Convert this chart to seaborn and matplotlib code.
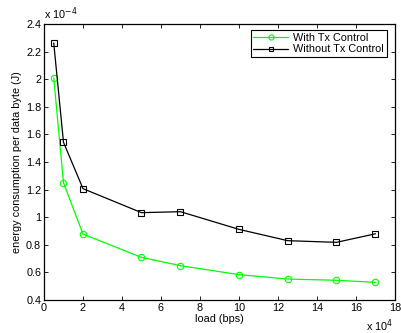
import pandas as pd
import numpy as np
import matplotlib
matplotlib.use('Agg')
import matplotlib.pyplot as plt
import seaborn as sns

# data (load in units of 1e4 bps, energy in units of 1e-4 J)
load = [0.5, 1, 2, 5, 7, 10, 12.5, 15, 17]
with_ctrl = [2.009, 1.25, 0.878, 0.709, 0.649, 0.584, 0.552, 0.543, 0.528]
without_ctrl = [2.262, 1.543, 1.207, 1.033, 1.040, 0.912, 0.830, 0.818, 0.880]
series_names = ['With Tx Control', 'Without Tx Control']
xticks = np.arange(0, 19, 2)
yticks = np.arange(0.4, 2.41, 0.2)

sns.set_style('ticks')
plt.rcParams['font.family'] = ['Liberation Sans', 'DejaVu Sans']
plt.rcParams['xtick.direction'] = 'in'
plt.rcParams['ytick.direction'] = 'in'
plt.rcParams['text.color'] = 'black'
plt.rcParams['xtick.color'] = 'black'
plt.rcParams['ytick.color'] = 'black'
plt.rcParams['axes.labelcolor'] = 'black'
fs = 7.8

fig = plt.figure(figsize=(4.01, 3.33), dpi=100)
ax = fig.add_axes([0.1097, 0.099, 0.8753, 0.829])

sns.lineplot(x=load, y=with_ctrl, ax=ax, color='#00ff00', marker='o', markersize=4.6,
             markerfacecolor='none', markeredgecolor='#00ff00', markeredgewidth=0.8,
             linewidth=0.9, label=series_names[0])
sns.lineplot(x=load, y=without_ctrl, ax=ax, color='black', marker='s', markersize=3.8,
             markerfacecolor='none', markeredgecolor='black', markeredgewidth=0.8,
             linewidth=0.9, label=series_names[1])

ax.set_xlim(0, 18)
ax.set_ylim(0.4, 2.4)
ax.set_xticks(xticks)
ax.set_yticks(yticks)
ax.set_xticklabels([f'{t:g}' for t in xticks], fontsize=fs)
ax.set_yticklabels([f'{t:g}' for t in yticks], fontsize=fs)
ax.tick_params(top=True, right=True, length=3, width=0.6, pad=2)
for s in ax.spines.values():
    s.set_linewidth(0.9)
    s.set_color('black')
    s.set_visible(True)

ax.set_xlabel('load (bps)', fontsize=fs, labelpad=1)
ax.set_ylabel('energy consumption per data byte (J)', fontsize=fs, labelpad=3)

# MATLAB style exponent labels
ax.text(0.0, 1.018, r'x 10$^{-4}$', transform=ax.transAxes, fontsize=fs, ha='left', va='baseline')
ax.text(0.995, -0.112, r'x 10$^{4}$', transform=ax.transAxes, fontsize=fs, ha='right', va='baseline')

leg = ax.legend(loc='upper right', bbox_to_anchor=(0.977, 0.978), fontsize=fs, frameon=True,
                fancybox=False, edgecolor='black', borderaxespad=0.0, handlelength=3.2,
                borderpad=0.25, labelspacing=0.15, handletextpad=0.5, markerscale=0.8)
leg.get_frame().set_linewidth(0.8)
leg.get_frame().set_alpha(1)

fig.savefig('out.png', dpi=100)
